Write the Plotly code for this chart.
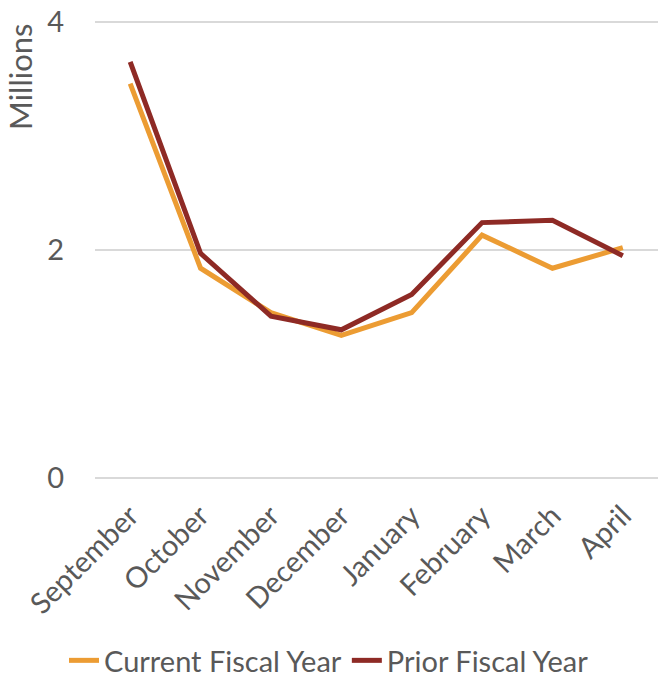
import plotly.graph_objects as go

months = ["September", "October", "November", "December",
          "January", "February", "March", "April"]
current_fy = [3.46, 1.84, 1.45, 1.25, 1.45, 2.13, 1.84, 2.02]
prior_fy = [3.65, 1.97, 1.42, 1.30, 1.61, 2.24, 2.26, 1.95]

FONT = "Lato"
GRAY = "#595959"
GRID = "#D9D9D9"

fig = go.Figure()
fig.add_trace(go.Scatter(x=months, y=current_fy, mode="lines",
                         name="Current Fiscal Year",
                         line=dict(color="#EC9C33", width=5)))
fig.add_trace(go.Scatter(x=months, y=prior_fy, mode="lines",
                         name="Prior Fiscal Year",
                         line=dict(color="#8E2A25", width=5)))

fig.update_layout(
    width=658, height=686,
    margin=dict(l=95, r=0, t=19, b=208),
    plot_bgcolor="white", paper_bgcolor="white",
    font=dict(family=FONT, size=29, color=GRAY),
    showlegend=True,
    legend=dict(orientation="h", xref="container", yref="container",
                x=0.5, xanchor="center", y=0.0, yanchor="bottom",
                font=dict(size=29, color=GRAY),
                tracegroupgap=0),
    xaxis=dict(type="category", range=[-0.5, 7.5], tickangle=-45,
               showgrid=False, showline=False, ticks="",
               ticklabelstandoff=14,
               tickfont=dict(size=29, color=GRAY)),
    yaxis=dict(range=[0, 4.026], tickvals=[0, 2, 4], ticktext=["0", "2", "4"],
               showgrid=True, gridcolor=GRID, gridwidth=1.5,
               zeroline=True, zerolinecolor=GRID, zerolinewidth=1.5,
               showline=False, ticks="",
               ticklabelstandoff=30,
               tickfont=dict(size=29, color=GRAY)),
    annotations=[dict(text="Millions", xref="paper", yref="paper",
                      x=-0.132, y=0.993, xanchor="center", yanchor="top",
                      textangle=-90, showarrow=False,
                      font=dict(size=31, color=GRAY))],
)

fig.write_html("out.html")
